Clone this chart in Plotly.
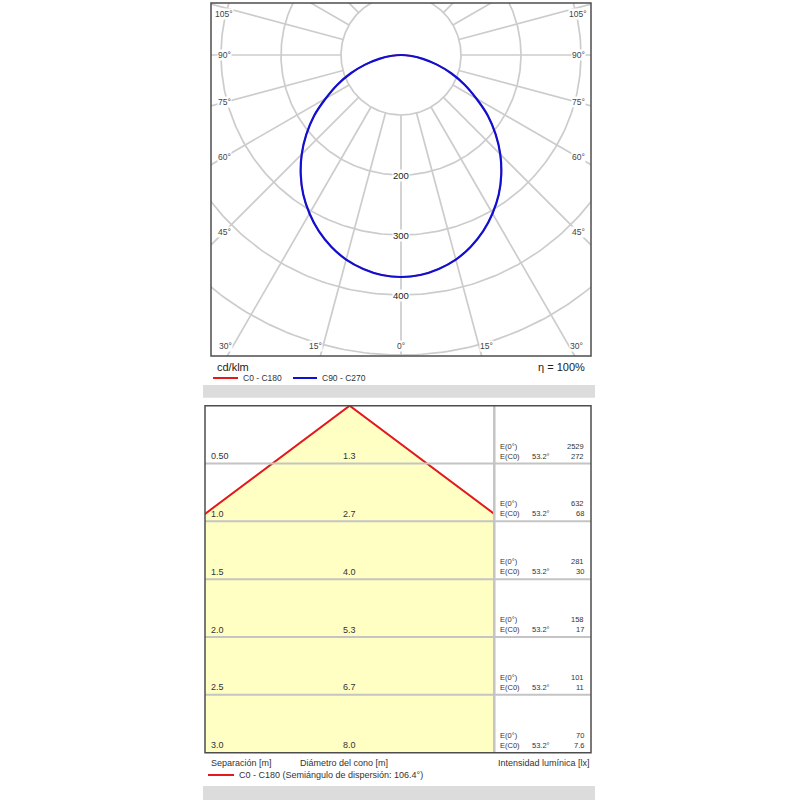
import math
import numpy as np
import plotly.graph_objects as go

# ---------------- data ----------------
gamma_deg = [0, 5, 10, 15, 20, 25, 30, 35, 40, 45, 50, 55, 60, 65, 70, 75, 80, 85, 90]
i_c90_c270 = [370, 368, 362, 353, 340, 324, 305, 284, 260, 234, 206, 177, 145, 117, 89, 62, 37, 15, 0]
i_c0_c180 = [370, 368, 362, 353, 340, 324, 305, 284, 260, 234, 206, 177, 145, 117, 89, 62, 37, 15, 0]

ring_values = [100, 200, 300, 400, 500, 600]
ring_labels = [200, 300, 400]
spoke_angles = list(range(0, 360, 15))
angle_labels = [0, 15, 30, 45, 60, 75, 90, 105]

separation_m = [0.5, 1.0, 1.5, 2.0, 2.5, 3.0]
separation_txt = ["0.50", "1.0", "1.5", "2.0", "2.5", "3.0"]
cone_diam_txt = ["1.3", "2.7", "4.0", "5.3", "6.7", "8.0"]
e_0 = ["2529", "632", "281", "158", "101", "70"]
e_c0 = ["272", "68", "30", "17", "11", "7.6"]
half_angle_deg = 53.2
eta_txt = "η = 100%"
unit_txt = "cd/klm"

# ---------------- layout constants (pixels, page coordinates) ----------------
W = H = 800
OFF = 0  # page body margin removed by post_script
def px(xp):
    return (xp - OFF) / W
def py(yp):
    return 1 - (yp - OFF) / H

T_L, T_R, T_T, T_B = 211, 591, 3, 356
CX, CY, K = 401, 55, 0.6          # polar centre (px) and px per cd/klm
B_L, B_D, B_R, B_T, B_B = 205, 494.3, 591, 405.7, 752.7
Km = (B_B - B_T) / separation_m[-1]  # px per metre
xhalf = (B_D - B_L) / 2 / Km

FONT = "Liberation Sans, Arial, sans-serif"
TXT = "#333333"
GRID = "#cccccc"
RED = "#e3191c"
BLUE = "#1010d0"
YELLOW = "#ffffc4"

fig = go.Figure()

# ---------------- polar grid ----------------
gx, gy = [], []
t = np.linspace(0, 2 * np.pi, 361)
for R in ring_values:
    gx += list(R * np.sin(t)) + [None]
    gy += list(R * np.cos(t)) + [None]
for a in spoke_angles:
    ar = math.radians(a)
    gx += [100 * math.sin(ar), 900 * math.sin(ar), None]
    gy += [-100 * math.cos(ar), -900 * math.cos(ar), None]
fig.add_trace(go.Scatter(x=gx, y=gy, mode="lines", line=dict(color=GRID, width=1.7),
                         hoverinfo="skip", xaxis="x", yaxis="y"))

def curve(vals):
    ang = [-g for g in reversed(gamma_deg)] + gamma_deg[1:]
    rr = list(reversed(vals)) + vals[1:]
    xs = [r * math.sin(math.radians(a)) for a, r in zip(ang, rr)]
    ys = [-r * math.cos(math.radians(a)) for a, r in zip(ang, rr)]
    return xs, ys

xr, yr = curve(i_c0_c180)
fig.add_trace(go.Scatter(x=xr, y=yr, mode="lines", line=dict(color=RED, width=1.4, shape="spline", smoothing=0.8),
                         hoverinfo="skip", xaxis="x", yaxis="y"))
xb, yb = curve(i_c90_c270)
fig.add_trace(go.Scatter(x=xb, y=yb, mode="lines", line=dict(color=BLUE, width=2.2, shape="spline", smoothing=0.8),
                         hoverinfo="skip", xaxis="x", yaxis="y"))

# ---------------- cone ----------------
tanA = math.tan(math.radians(half_angle_deg))
hmax = separation_m[-1]
X = hmax * tanA
fig.add_trace(go.Scatter(x=[-X, 0, X, -X], y=[hmax, 0, hmax, hmax], mode="lines",
                         fill="toself", fillcolor=YELLOW, line=dict(width=0),
                         hoverinfo="skip", xaxis="x2", yaxis="y2"))
fig.add_trace(go.Scatter(x=[-X, 0, X], y=[hmax, 0, hmax], mode="lines",
                         line=dict(color=RED, width=2),
                         hoverinfo="skip", xaxis="x2", yaxis="y2"))

ann = []
shapes = []

# ring labels
for v in ring_labels:
    ann.append(dict(x=0, y=-v, xref="x", yref="y", text=str(v), showarrow=False,
                    bgcolor="white", borderpad=0, font=dict(size=9.5, color="#222", family=FONT),
                    xanchor="center", yanchor="middle"))
# angle labels
inset_x = 177 / K
bottom_y = -(346 - CY) / K
top_y = (CY - 14) / K
for a in angle_labels:
    ar = math.radians(a)
    if a >= 45:
        yv = -inset_x * math.cos(ar) / math.sin(ar)
        yv = min(yv, top_y)
        pos = [(-inset_x, yv), (inset_x, yv)]
    else:
        xv = min(inset_x, -bottom_y * math.tan(ar) + (12 if a > 0 else 0))
        pos = [(0, bottom_y)] if a == 0 else [(-xv, bottom_y), (xv, bottom_y)]
    for (xx, yy) in pos:
        ann.append(dict(x=xx, y=yy, xref="x", yref="y", text=f"{a}°", showarrow=False,
                        bgcolor="white", borderpad=0, font=dict(size=8.5, color="#444", family=FONT),
                        xanchor="center", yanchor="middle"))

# top captions
ann.append(dict(x=px(215), y=py(367), xref="paper", yref="paper", text=unit_txt, showarrow=False,
                xanchor="left", yanchor="middle", font=dict(size=11, color="#222", family=FONT)))
ann.append(dict(x=px(587), y=py(367), xref="paper", yref="paper", text=eta_txt, showarrow=False,
                xanchor="right", yanchor="middle", font=dict(size=11, color="#222", family=FONT)))
shapes.append(dict(type="line", xref="paper", yref="paper", x0=px(213), x1=px(238), y0=py(378), y1=py(378),
                   line=dict(color=RED, width=2)))
ann.append(dict(x=px(241), y=py(378), xref="paper", yref="paper", text="C0 - C180", showarrow=False,
                xanchor="left", yanchor="middle", font=dict(size=8.5, color=TXT, family=FONT)))
shapes.append(dict(type="line", xref="paper", yref="paper", x0=px(293), x1=px(317), y0=py(378), y1=py(378),
                   line=dict(color=BLUE, width=2)))
ann.append(dict(x=px(320), y=py(378), xref="paper", yref="paper", text="C90 - C270", showarrow=False,
                xanchor="left", yanchor="middle", font=dict(size=8.5, color=TXT, family=FONT)))

# gray bands
for (y0, y1) in [(385, 397.7), (786, 800)]:
    shapes.append(dict(type="rect", xref="paper", yref="paper", x0=px(203), x1=px(595), y0=py(y1), y1=py(y0),
                       fillcolor="#dcdcdc", line=dict(width=0), layer="below"))

# row lines and divider
for h in separation_m[:-1]:
    shapes.append(dict(type="line", xref="paper", yref="y2", x0=px(B_L), x1=px(B_R), y0=h, y1=h,
                       line=dict(color="#c4c4c4", width=2), layer="above"))
shapes.append(dict(type="line", xref="paper", yref="paper", x0=px(B_D), x1=px(B_D), y0=py(B_T), y1=py(B_B),
                   line=dict(color="#c4c4c4", width=2.5), layer="above"))

# frames
shapes.append(dict(type="rect", xref="paper", yref="paper", x0=px(T_L), x1=px(T_R), y0=py(T_B), y1=py(T_T),
                   line=dict(color="#4d4d4d", width=1.5), layer="above"))
shapes.append(dict(type="rect", xref="paper", yref="paper", x0=px(B_L), x1=px(B_R), y0=py(B_B), y1=py(B_T),
                   line=dict(color="#4d4d4d", width=1.5), layer="above"))

# row texts
o1 = 7.5 / Km
o2 = 17.5 / Km
for h, st, dt, a0, ac in zip(separation_m, separation_txt, cone_diam_txt, e_0, e_c0):
    ann.append(dict(x=px(209), y=h - o1, xref="paper", yref="y2", text=st, showarrow=False,
                    xanchor="left", yanchor="middle", font=dict(size=9, color=TXT, family=FONT)))
    ann.append(dict(x=0, y=h - o1, xref="x2", yref="y2", text=dt, showarrow=False,
                    xanchor="center", yanchor="middle", font=dict(size=9, color=TXT, family=FONT)))
    ann.append(dict(x=px(498), y=h - o2, xref="paper", yref="y2", text="E(0°)", showarrow=False,
                    xanchor="left", yanchor="middle", font=dict(size=7.5, color=TXT, family=FONT)))
    ann.append(dict(x=px(498), y=h - o1, xref="paper", yref="y2", text="E(C0)", showarrow=False,
                    xanchor="left", yanchor="middle", font=dict(size=7.5, color=TXT, family=FONT)))
    ann.append(dict(x=px(541), y=h - o1, xref="paper", yref="y2", text=f"{half_angle_deg}°", showarrow=False,
                    xanchor="center", yanchor="middle", font=dict(size=7.5, color=TXT, family=FONT)))
    ann.append(dict(x=px(586), y=h - o2, xref="paper", yref="y2", text=a0, showarrow=False,
                    xanchor="right", yanchor="middle", font=dict(size=7.5, color=TXT, family=FONT)))
    ann.append(dict(x=px(586), y=h - o1, xref="paper", yref="y2", text=ac, showarrow=False,
                    xanchor="right", yanchor="middle", font=dict(size=7.5, color=TXT, family=FONT)))

# bottom captions
for xx, txt in [(209, "Separación [m]"), (298, "Diámetro del cono [m]"), (496, "Intensidad lumínica [lx]")]:
    ann.append(dict(x=px(xx), y=py(763), xref="paper", yref="paper", text=txt, showarrow=False,
                    xanchor="left", yanchor="middle", font=dict(size=9, color=TXT, family=FONT)))
shapes.append(dict(type="line", xref="paper", yref="paper", x0=px(208), x1=px(234), y0=py(775), y1=py(775),
                   line=dict(color=RED, width=2)))
ann.append(dict(x=px(237), y=py(775), xref="paper", yref="paper",
                text=f"C0 - C180 (Semiángulo de dispersión: {2 * half_angle_deg:.1f}°)", showarrow=False,
                xanchor="left", yanchor="middle", font=dict(size=9, color=TXT, family=FONT)))

ax_common = dict(showgrid=False, zeroline=False, showticklabels=False, ticks="", showline=False,
                 fixedrange=True)
fig.update_layout(
    width=W, height=H, margin=dict(l=0, r=0, t=0, b=0), autosize=False,
    paper_bgcolor="white", plot_bgcolor="white", showlegend=False, hovermode=False,
    xaxis=dict(domain=[px(T_L), px(T_R)], range=[(T_L - CX) / K, (T_R - CX) / K], **ax_common),
    yaxis=dict(domain=[py(T_B), py(T_T)], range=[-(T_B - CY) / K, (CY - T_T) / K], **ax_common),
    xaxis2=dict(domain=[px(B_L), px(B_D)], range=[-xhalf, xhalf], anchor="y2", **ax_common),
    yaxis2=dict(domain=[py(B_B), py(B_T)], range=[hmax, 0], anchor="x2", **ax_common),
    annotations=ann, shapes=shapes,
)

fig.write_html("out.html", config={"displayModeBar": False},
               post_script="document.body.style.margin='0px';")
